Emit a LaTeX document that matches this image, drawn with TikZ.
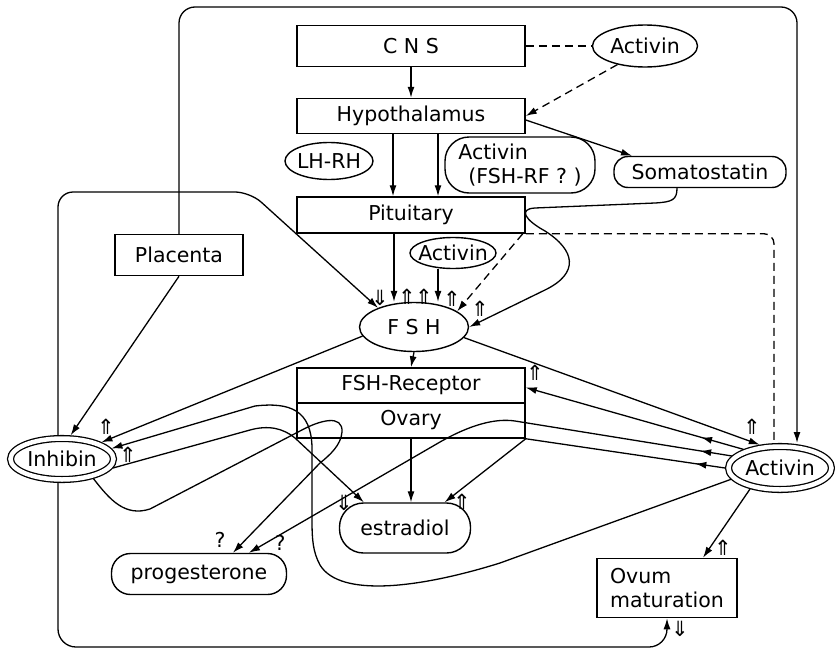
\documentclass[tikz,border=0pt]{standalone}
\usepackage{fontspec}
\setmainfont{DejaVu Sans}
\usetikzlibrary{arrows.meta,shapes.geometric,decorations.markings}
\tikzset{
  box/.style={draw,line width=1.5pt,align=center},
  ell/.style={draw,ellipse,line width=1.4pt,inner sep=0pt},
  dbl/.style={draw,ellipse,line width=1.3pt,double,double distance=4.5pt,
    outer sep=3.5pt,inner sep=0pt},
  pill/.style={draw,line width=1.4pt,rounded corners=#1},
  arr/.style={-{Latex[length=11pt,width=7pt]},line width=1.3pt},
  lnk/.style={line width=1.3pt},
  dsh/.style={line width=1.3pt,dash pattern=on 8pt off 5pt},
  midarr/.style={postaction={decorate},decoration={markings,
    mark=at position #1 with {\arrow{Latex[length=11pt,width=7pt]}}}},
  mk/.style={inner sep=0pt,font=\fontsize{21}{21}\selectfont},
}
\newcommand{\ctxt}[1]{\makebox[0pt]{#1}}

\begin{document}
\begin{tikzpicture}[x=1pt,y=-1pt,font=\fontsize{20.5}{24}\selectfont]
  \useasboundingbox (0,0) rectangle (835,653);

  \node[box,minimum width=228,minimum height=41] (cns) at (411,46) {C N S};
  \node[ell,minimum width=105,minimum height=42] (acttop) at (645,46) {\ctxt{Activin}};
  \node[box,minimum width=228,minimum height=35] (hyp) at (411,116) {Hypothalamus};
  \node[ell,minimum width=88,minimum height=37] (lhrh) at (329,161) {\ctxt{LH-RH}};
  \node[pill=24,minimum width=150,minimum height=56,align=left] (frf) at (520,165)
    {Activin\\\hspace*{10pt}(FSH-RF ? )};
  \node[pill=14,minimum width=172,minimum height=31] (soma) at (700,172) {Somatostatin};
  \node[box,minimum width=228,minimum height=36] (pit) at (411,215) {Pituitary};
  \node[box,minimum width=128,minimum height=41] (plac) at (179,255) {Placenta};
  \node[ell,minimum width=86,minimum height=31] (actmid) at (453,253) {\ctxt{Activin}};
  \node[ell,minimum width=109,minimum height=49] (fsh) at (414,327) {\ctxt{F S H}};
  \node[box,minimum width=228,minimum height=35] (frec) at (411,385.5) {FSH-Receptor};
  \node[box,minimum width=228,minimum height=35] (ova) at (411,420.5) {Ovary};
  \node[dbl,minimum width=103,minimum height=41] (inh) at (62,459) {\ctxt{Inhibin}};
  \node[dbl,minimum width=103,minimum height=43] (actr) at (780,468) {\ctxt{Activin}};
  \node[pill=24,minimum width=131,minimum height=50] (estr) at (405,528) {estradiol};
  \node[pill=19,minimum width=175,minimum height=41] (prog) at (199,574) {progesterone};
  \node[box,minimum width=140,minimum height=59,align=left] (ovum) at (667,588)
    {Ovum\\maturation};

  % central axis
  \draw[arr] (cns.south) -- (hyp.north);
  \draw[dsh] (cns.east) -- (acttop.west);
  \draw[dsh,arr] (acttop.214) -- (hyp.east);
  \draw[arr] ([yshift=-4pt]hyp.east) -- ([xshift=-68pt]soma.north);
  \draw[arr] ([xshift=-18pt]hyp.south) -- ([xshift=-18pt]pit.north);
  \draw[arr] ([xshift=27pt]hyp.south) -- ([xshift=27pt]pit.north);
  \draw[arr] ([xshift=-17pt]pit.south) -- ([xshift=-17pt]pit.south |- fsh.north);
  \draw[arr] ([xshift=-15pt]actmid.south) -- ([xshift=-15pt]actmid.south |- fsh.north);
  \draw[dsh,arr] ([xshift=-3pt]pit.south east) -- (fsh.20);
  \draw[arr] ([xshift=-23pt]soma.south) .. controls (677,200) and (672,202) .. (655,203)
    -- (535,208) .. controls (518,209) and (525,220) .. (545,231)
    .. controls (575,250) and (580,273) .. (545,290) -- (fsh.east);
  \draw[dsh,rounded corners=10] (pit.south east) -| ([xshift=-6pt]actr.north);
  \draw[arr] (fsh.south) -- (frec.north);
  \draw[arr] (ova.south) -- (ova.south |- estr.north);

  % placenta
  \coordinate (tr) at (797,7);
  \draw[arr,rounded corners=16] (plac.north) |- (tr) -- (tr |- actr.north);
  \draw[arr] (plac.south) -- (inh.70);

  % inhibin
  \coordinate (lt) at (250,192);
  \coordinate (lb) at (0,647);
  \draw[arr,rounded corners=15] ([xshift=-4pt]inh.north) |- (lt) -- (fsh.152);
  \draw[arr,rounded corners=18] ([xshift=-4pt]inh.south) |- (ovum.south |- lb) -- (ovum.south);
  \draw[arr] (fsh.190) -- (inh.23);
  \draw[arr] (inh.350) -- (250,430) .. controls (268,425) and (283,428) .. (295,438) -- (estr.148);
  \draw[arr] (inh.328) .. controls (110,500) and (125,517) .. (150,509) -- (300,431)
    .. controls (320,420) and (343,414) .. (342,432)
    .. controls (341,445) and (330,455) .. (320,463) -- (prog.32);

  % gonadal activin
  \draw[arr] (fsh.348) -- (actr.131);
  \draw[arr,midarr=44pt] (actr.153) -- ([yshift=-2pt]frec.east);
  \draw[arr,midarr=32pt] (actr.166) -- (515,421) .. controls (495,418) and (470,425) .. (440,442)
    -- (prog.23);
  \draw[arr,midarr=30pt] (actr.west) -- (ova.south east) -- (estr.33);
  \draw[arr] (actr.193) -- (500,563) .. controls (420,588) and (340,598) .. (320,565)
    .. controls (313,552) and (312,540) .. (312,520) -- (312,447)
    .. controls (311,410) and (290,402) .. (255,406) -- (inh.12);
  \draw[arr] (actr.215) -- ([xshift=36pt]ovum.north);

  % effect marks
  \foreach \p [count=\i] in {(407,297),(424,297),(452,299),(480,309),(535,373),
      (752,427),(106,427),(128,455),(462,502),(723,548)}
    \node[mk] (up\i) at \p {⇑};
  \foreach \p [count=\i] in {(380,298),(344,503),(680,629)}
    \node[mk] (dn\i) at \p {⇓};
  \node (q1) at (220,540) {?};
  \node (q2) at (280,543) {?};
\end{tikzpicture}
\end{document}
